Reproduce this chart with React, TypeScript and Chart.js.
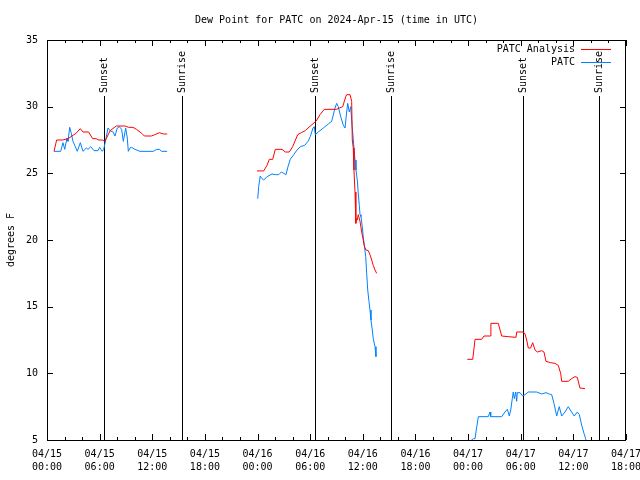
import React, { useEffect, useRef } from 'react';
import { Chart, registerables } from 'chart.js';

Chart.register(...registerables);

const FONT = '"DejaVu Sans Mono", "Liberation Mono", monospace';

const titleText = 'Dew Point for PATC on 2024-Apr-15 (time in UTC)';
const yAxisTitle = 'degrees F';
const seriesNames = ['PATC Analysis', 'PATC'];
const seriesColors = ['#ff0000', '#0080ff'];

// hours since 04/15 00:00 UTC
const xTickHours = [0, 6, 12, 18, 24, 30, 36, 42, 48, 54, 60, 66];
const xTickDates = ['04/15', '04/15', '04/15', '04/15', '04/16', '04/16', '04/16', '04/16', '04/17', '04/17', '04/17', '04/17'];
const xTickTimes = ['00:00', '06:00', '12:00', '18:00', '00:00', '06:00', '12:00', '18:00', '00:00', '06:00', '12:00', '18:00'];
const yTicks = [5, 10, 15, 20, 25, 30, 35];

const sunEventHours = [6.5, 15.39, 30.55, 39.2, 54.26, 62.92];
const sunEventLabels = ['Sunset', 'Sunrise', 'Sunset', 'Sunrise', 'Sunset', 'Sunrise'];

// PATC Analysis (red)
const analysisHours1 = [0.8, 1.1, 1.8, 2.4, 3.3, 3.8, 4.1, 4.75, 5.2, 5.6, 5.9, 6.3, 6.6, 7.2, 7.9, 8.9, 9.3, 9.8, 10.2, 10.8, 11.1, 11.9, 12.3, 12.8, 13.3, 13.7];
const analysisValues1 = [26.65, 27.5, 27.5, 27.6, 28.0, 28.35, 28.1, 28.1, 27.6, 27.6, 27.5, 27.5, 27.4, 28.2, 28.55, 28.55, 28.45, 28.45, 28.3, 28.0, 27.8, 27.8, 27.9, 28.05, 27.95, 27.95];
const analysisHours2 = [23.94, 24.7, 25.08, 25.34, 25.73, 26.02, 26.79, 27.16, 27.62, 28.0, 28.58, 28.99, 29.44, 30.01, 30.66, 31.12, 31.61, 33.02, 33.32, 33.71, 34.05, 34.16, 34.54, 34.73, 34.8, 34.91, 34.99, 35.11, 35.19, 35.22, 35.3, 35.37, 35.48, 35.68, 35.87, 36.05, 36.17, 36.36, 36.62, 36.82, 37.01, 37.19, 37.39, 37.58];
const analysisValues2 = [25.18, 25.18, 25.6, 26.05, 26.05, 26.8, 26.8, 26.6, 26.6, 27.0, 27.9, 28.05, 28.2, 28.55, 28.9, 29.4, 29.8, 29.8, 29.9, 30.0, 30.75, 30.9, 30.9, 30.4, 27.5, 26.9, 25.25, 23.6, 22.0, 21.25, 21.6, 21.5, 21.9, 21.4, 20.6, 20.0, 19.55, 19.25, 19.2, 18.9, 18.5, 18.1, 17.75, 17.5];
const analysisHours3 = [47.91, 48.53, 48.79, 49.55, 49.81, 50.58, 50.6, 51.44, 51.83, 52.58, 53.46, 53.54, 54.29, 54.49, 54.68, 54.86, 55.13, 55.36, 55.63, 55.89, 56.39, 56.65, 56.88, 57.41, 57.9, 58.28, 58.55, 58.67, 59.42, 59.8, 60.18, 60.45, 60.75, 61.33];
const analysisValues3 = [11.05, 11.05, 12.55, 12.55, 12.8, 12.8, 13.75, 13.75, 12.8, 12.75, 12.7, 13.1, 13.1, 12.95, 12.5, 11.9, 11.9, 12.3, 11.75, 11.6, 11.7, 11.6, 10.9, 10.8, 10.75, 10.6, 10.0, 9.4, 9.4, 9.6, 9.75, 9.7, 8.9, 8.85];

// PATC observations (blue)
const obsHours1 = [0.8, 1.56, 1.82, 2.02, 2.28, 2.39, 2.59, 2.77, 2.96, 3.23, 3.45, 3.8, 4.1, 4.48, 4.67, 4.98, 5.36, 5.81, 6.0, 6.3, 6.46, 6.65, 6.95, 7.26, 7.49, 7.75, 8.01, 8.24, 8.51, 8.7, 8.97, 9.15, 9.27, 9.46, 9.65, 10.03, 10.6, 12.12, 12.5, 12.8, 13.07, 13.7];
const obsValues1 = [26.65, 26.65, 27.3, 26.8, 27.65, 27.4, 28.45, 28.0, 27.4, 27.0, 26.65, 27.3, 26.65, 26.9, 26.8, 27.0, 26.7, 26.7, 26.95, 26.65, 26.8, 27.35, 28.4, 28.15, 28.15, 27.8, 28.4, 28.5, 28.3, 27.4, 28.4, 27.65, 26.65, 26.9, 26.95, 26.8, 26.65, 26.65, 26.8, 26.8, 26.65, 26.65];
const obsHours2 = [24.02, 24.13, 24.31, 24.51, 24.7, 25.08, 25.65, 26.02, 26.41, 26.71, 26.98, 27.24, 27.47, 27.73, 28.12, 28.5, 28.87, 29.37, 29.75, 30.01, 30.32, 30.47, 30.58, 30.92, 31.5, 32.06, 32.45, 32.83, 33.02, 33.2, 33.48, 33.78, 33.97, 34.16, 34.28, 34.46, 34.62, 34.77, 34.91, 35.03, 35.11, 35.22, 35.37, 35.48, 35.6, 35.68, 35.79, 35.94, 36.05, 36.17, 36.33, 36.44, 36.56, 36.7, 36.82, 36.93, 37.08, 37.19, 37.39, 37.5];
const obsValues2 = [23.1, 24.0, 24.8, 24.6, 24.5, 24.75, 24.95, 24.9, 24.9, 25.1, 25.0, 24.9, 25.5, 26.05, 26.4, 26.75, 27.0, 27.1, 27.4, 27.75, 28.4, 28.5, 27.9, 28.1, 28.4, 28.7, 28.9, 29.9, 30.25, 30.0, 29.25, 28.6, 28.4, 29.6, 30.25, 29.6, 30.0, 28.6, 27.6, 26.6, 26.0, 25.25, 24.5, 23.5, 22.6, 21.9, 21.75, 21.0, 20.25, 19.6, 18.75, 17.5, 16.25, 15.4, 14.75, 14.0, 13.25, 12.6, 12.0, 11.25];
const obsHours3 = [48.22, 48.41, 48.6, 48.79, 48.99, 49.17, 50.3, 50.5, 50.58, 51.83, 52.2, 52.47, 52.7, 52.86, 53.04, 53.15, 53.27, 53.43, 53.54, 53.61, 53.92, 54.22, 54.49, 54.86, 55.82, 56.39, 56.88, 57.26, 57.53, 57.79, 58.1, 58.39, 58.67, 59.05, 59.42, 59.8, 60.1, 60.45, 60.68, 60.95, 61.21, 61.4, 61.5];
const obsValues3 = [4.9, 5.0, 5.1, 5.1, 6.0, 6.75, 6.75, 7.1, 6.75, 6.75, 7.1, 7.3, 6.8, 7.25, 8.1, 8.6, 8.1, 8.6, 7.9, 8.55, 8.55, 8.3, 8.4, 8.6, 8.6, 8.45, 8.55, 8.45, 8.4, 7.75, 6.8, 7.5, 6.8, 7.1, 7.5, 7.1, 6.8, 7.1, 6.9, 6.1, 5.5, 5.1, 4.8];

function joinSegments(segs: [number[], number[]][]) {
  const out: { x: number; y: number | null }[] = [];
  segs.forEach(([xs, ys], i) => {
    if (i > 0) out.push({ x: (xs[0] + out[out.length - 1].x) / 2, y: null });
    xs.forEach((x, j) => out.push({ x, y: ys[j] }));
  });
  return out;
}

const overlayPlugin = {
  id: 'gnuplotOverlay',
  beforeDatasetsDraw(chart: any) {
    const { ctx, chartArea: a, scales } = chart;
    const xs = scales.x;
    ctx.save();
    ctx.strokeStyle = '#000';
    ctx.fillStyle = '#000';
    ctx.lineWidth = 1;
    ctx.font = `10px ${FONT}`;
    sunEventHours.forEach((h, i) => {
      const x = Math.round(xs.getPixelForValue(h)) + 0.5;
      ctx.beginPath();
      ctx.moveTo(x, 96);
      ctx.lineTo(x, a.bottom);
      ctx.stroke();
      ctx.save();
      ctx.translate(x, 93);
      ctx.rotate(-Math.PI / 2);
      ctx.textAlign = 'left';
      ctx.textBaseline = 'middle';
      ctx.fillText(sunEventLabels[i], 0, 0);
      ctx.restore();
    });
    ctx.restore();
  },
  afterDraw(chart: any) {
    const { ctx, chartArea: a, scales } = chart;
    const xs = scales.x;
    const ys = scales.y;
    ctx.save();
    ctx.strokeStyle = '#000';
    ctx.lineWidth = 1;
    // border
    ctx.strokeRect(Math.round(a.left) + 0.5, Math.round(a.top) + 0.5, Math.round(a.right - a.left) - 1, Math.round(a.bottom - a.top));
    ctx.beginPath();
    // y ticks
    yTicks.forEach((v) => {
      const y = Math.round(ys.getPixelForValue(v)) + 0.5;
      ctx.moveTo(a.left, y); ctx.lineTo(a.left + 6, y);
      ctx.moveTo(a.right, y); ctx.lineTo(a.right - 6, y);
    });
    // x ticks (major 6h, minor 2h)
    for (let h = 0; h <= 66; h += 2) {
      const major = h % 6 === 0;
      const len = major ? 6 : 3;
      const x = Math.round(xs.getPixelForValue(h)) + 0.5;
      ctx.moveTo(x, a.bottom); ctx.lineTo(x, a.bottom - len);
      ctx.moveTo(x, a.top); ctx.lineTo(x, a.top + len);
    }
    ctx.stroke();

    ctx.fillStyle = '#000';
    ctx.font = `10px ${FONT}`;
    // title
    ctx.textAlign = 'center';
    ctx.textBaseline = 'middle';
    ctx.fillText(titleText, (a.left + a.right) / 2, 20);
    // y axis title
    ctx.save();
    ctx.translate(11, (a.top + a.bottom) / 2);
    ctx.rotate(-Math.PI / 2);
    ctx.fillText(yAxisTitle, 0, 0);
    ctx.restore();
    // legend
    ctx.textAlign = 'right';
    seriesNames.forEach((name, i) => {
      const y = 49 + i * 13;
      ctx.fillStyle = '#000';
      ctx.fillText(name, 575, y);
      ctx.strokeStyle = seriesColors[i];
      ctx.beginPath();
      ctx.moveTo(581, y + 0.5);
      ctx.lineTo(611, y + 0.5);
      ctx.stroke();
    });
    ctx.restore();
  },
};

export default function App() {
  const ref = useRef<HTMLCanvasElement | null>(null);
  useEffect(() => {
    if (!ref.current) return;
    const chart = new Chart(ref.current, {
      type: 'line',
      data: {
        datasets: [
          {
            label: seriesNames[0],
            data: joinSegments([
              [analysisHours1, analysisValues1],
              [analysisHours2, analysisValues2],
              [analysisHours3, analysisValues3],
            ]) as any,
            borderColor: seriesColors[0],
            borderWidth: 1,
            pointRadius: 0,
            tension: 0,
            spanGaps: false,
          },
          {
            label: seriesNames[1],
            data: joinSegments([
              [obsHours1, obsValues1],
              [obsHours2, obsValues2],
              [obsHours3, obsValues3],
            ]) as any,
            borderColor: seriesColors[1],
            borderWidth: 1,
            pointRadius: 0,
            tension: 0,
            spanGaps: false,
          },
        ],
      },
      options: {
        animation: false,
        responsive: false,
        devicePixelRatio: 1,
        layout: { padding: { top: 40, right: 14, left: 0, bottom: 0 } },
        plugins: { legend: { display: false }, tooltip: { enabled: false }, title: { display: false } },
        scales: {
          x: {
            type: 'linear',
            min: 0,
            max: 66,
            grid: { display: false, drawTicks: false },
            border: { display: false },
            afterBuildTicks: (scale: any) => {
              scale.ticks = xTickHours.map((v) => ({ value: v }));
            },
            afterFit: (scale: any) => {
              scale.height = 40;
              scale.paddingLeft = 0;
              scale.paddingRight = 0;
            },
            ticks: {
              autoSkip: false,
              maxRotation: 0,
              minRotation: 0,
              padding: 8,
              color: '#000',
              font: { family: FONT, size: 10, lineHeight: 1.3 },
              callback: (_v: any, i: number) => [xTickDates[i], xTickTimes[i]],
            },
          },
          y: {
            type: 'linear',
            min: 5,
            max: 35,
            grid: { display: false, drawTicks: false },
            border: { display: false },
            afterBuildTicks: (scale: any) => {
              scale.ticks = yTicks.map((v) => ({ value: v }));
            },
            afterFit: (scale: any) => {
              scale.width = 47;
              scale.paddingTop = 0;
              scale.paddingBottom = 0;
            },
            ticks: {
              padding: 9,
              color: '#000',
              font: { family: FONT, size: 10 },
              callback: (v: any) => String(v),
            },
          },
        },
      },
      plugins: [overlayPlugin],
    });
    return () => chart.destroy();
  }, []);
  return (
    <div style={{ position: 'absolute', left: 0, top: 0, width: 640, height: 480, background: '#fff' }}>
      <canvas ref={ref} width={640} height={480} style={{ display: 'block', width: 640, height: 480 }} />
    </div>
  );
}
